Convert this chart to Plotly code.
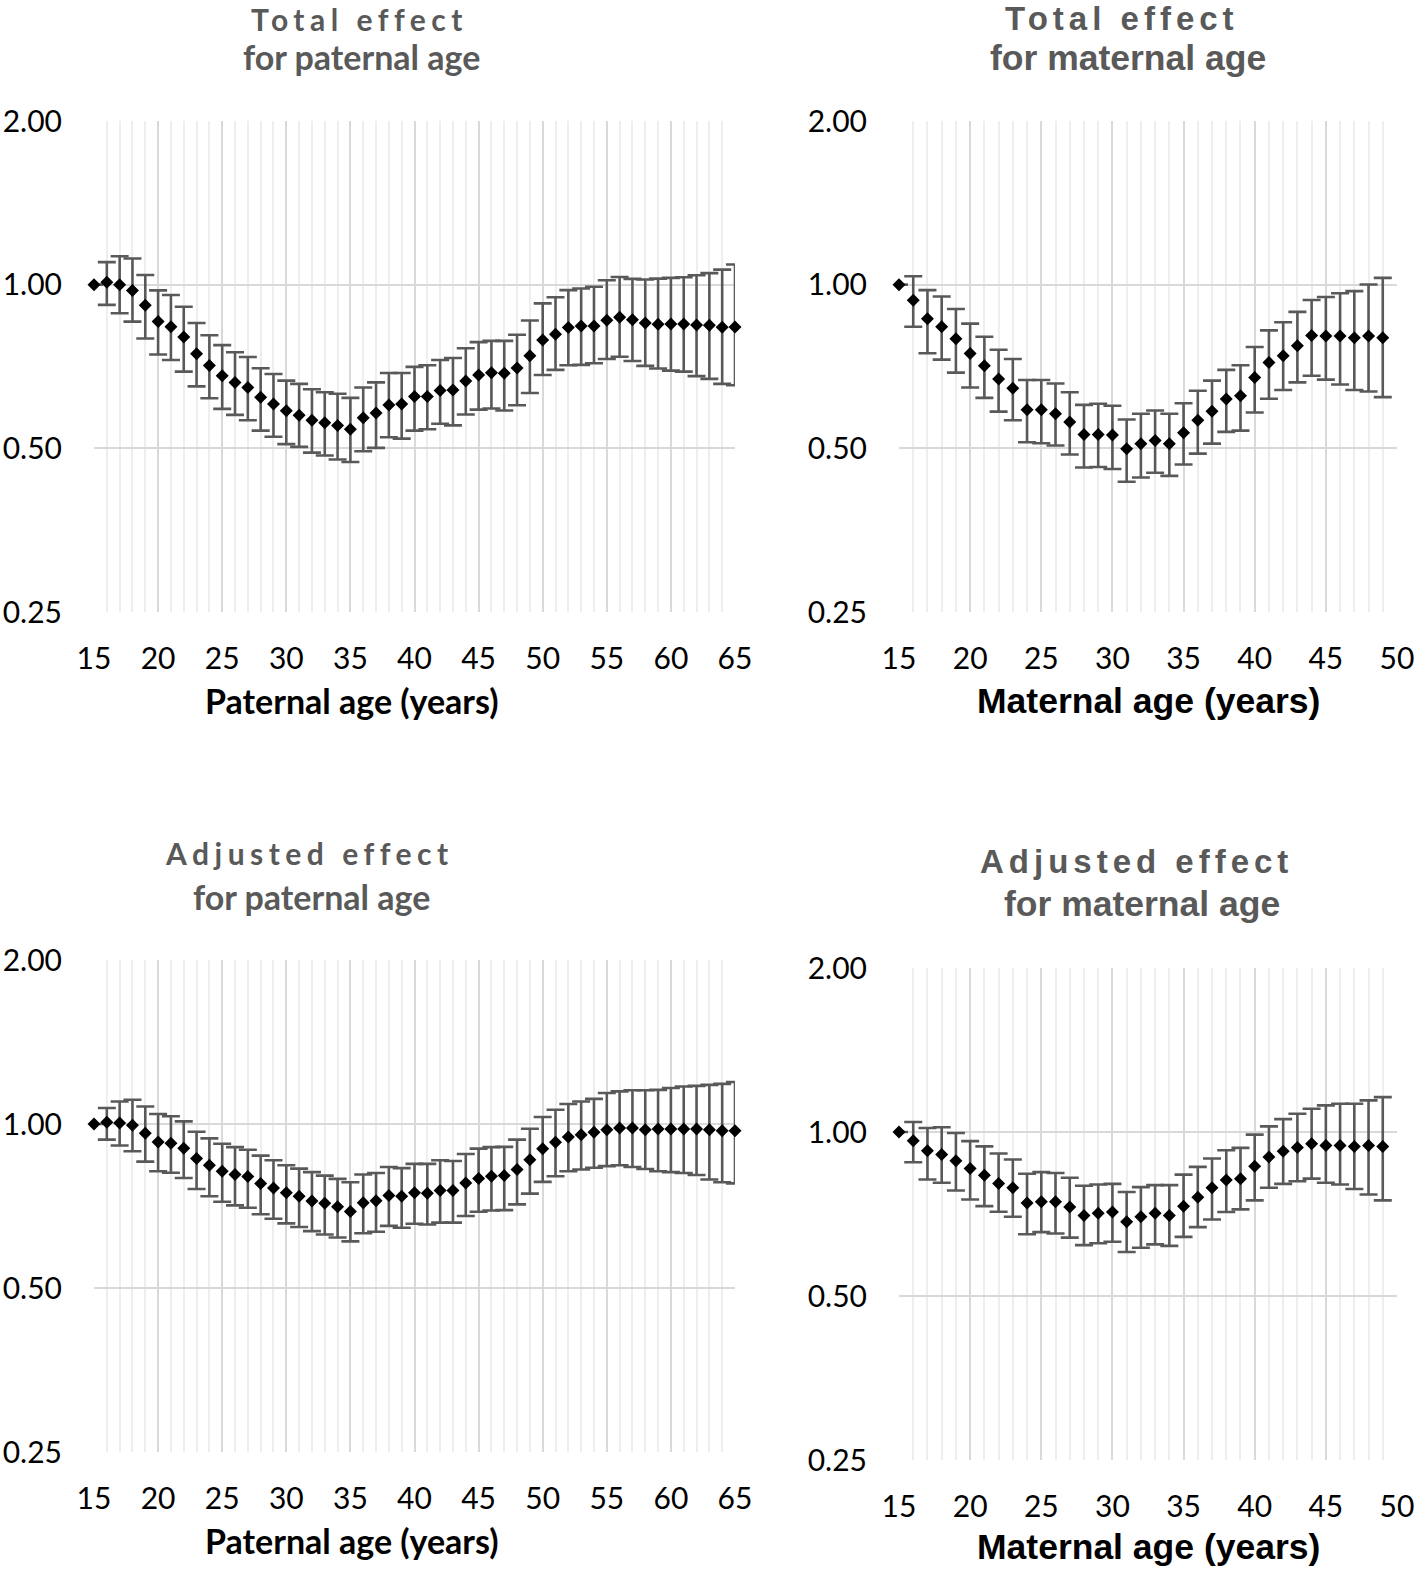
import plotly.graph_objects as go

# ---- data (odds ratios) ----
pat_ages = list(range(15, 66))
mat_ages = list(range(15, 50))

tot_pat_est = [1.00, 1.01, 1.00, 0.976, 0.917, 0.856, 0.837, 0.801, 0.746, 0.710,
               0.680, 0.661, 0.647, 0.621, 0.603, 0.586, 0.575, 0.563, 0.557, 0.551,
               0.542, 0.569, 0.581, 0.601, 0.603, 0.623, 0.623, 0.639, 0.640, 0.665,
               0.682, 0.689, 0.687, 0.703, 0.740, 0.791, 0.811, 0.834, 0.839, 0.839,
               0.860, 0.871, 0.862, 0.850, 0.846, 0.847, 0.847, 0.843, 0.842, 0.835, 0.836]
tot_pat_hi = [1.00, 1.10, 1.128, 1.117, 1.042, 0.976, 0.957, 0.911, 0.850, 0.807,
              0.774, 0.751, 0.736, 0.702, 0.685, 0.666, 0.657, 0.642, 0.634, 0.630,
              0.619, 0.647, 0.661, 0.688, 0.688, 0.706, 0.711, 0.727, 0.733, 0.764,
              0.784, 0.788, 0.788, 0.809, 0.859, 0.924, 0.948, 0.977, 0.984, 0.991,
              1.019, 1.033, 1.025, 1.022, 1.026, 1.029, 1.032, 1.041, 1.050, 1.066, 1.089]
tot_pat_lo = [1.00, 0.918, 0.886, 0.855, 0.796, 0.744, 0.727, 0.692, 0.650, 0.618,
              0.591, 0.576, 0.563, 0.539, 0.525, 0.509, 0.503, 0.491, 0.485, 0.477,
              0.472, 0.494, 0.501, 0.524, 0.521, 0.539, 0.542, 0.555, 0.551, 0.577,
              0.589, 0.592, 0.587, 0.600, 0.632, 0.682, 0.697, 0.711, 0.712, 0.717,
              0.730, 0.737, 0.724, 0.709, 0.701, 0.695, 0.692, 0.679, 0.671, 0.657, 0.653]

tot_mat_est = [1.00, 0.936, 0.866, 0.837, 0.795, 0.747, 0.709, 0.671, 0.645, 0.589,
               0.589, 0.579, 0.559, 0.530, 0.530, 0.529, 0.499, 0.510, 0.517, 0.510,
               0.534, 0.563, 0.585, 0.616, 0.625, 0.675, 0.719, 0.740, 0.772, 0.806,
               0.805, 0.805, 0.799, 0.805, 0.799]
tot_mat_hi = [1.00, 1.036, 0.977, 0.951, 0.902, 0.848, 0.802, 0.759, 0.730, 0.668,
              0.668, 0.658, 0.634, 0.601, 0.604, 0.599, 0.565, 0.579, 0.587, 0.579,
              0.605, 0.638, 0.666, 0.697, 0.711, 0.768, 0.824, 0.853, 0.891, 0.937,
              0.949, 0.964, 0.973, 1.001, 1.029]
tot_mat_lo = [1.00, 0.837, 0.748, 0.728, 0.689, 0.647, 0.619, 0.584, 0.563, 0.513,
              0.511, 0.506, 0.487, 0.461, 0.462, 0.458, 0.434, 0.442, 0.451, 0.445,
              0.467, 0.489, 0.510, 0.536, 0.539, 0.582, 0.617, 0.640, 0.661, 0.680,
              0.669, 0.655, 0.640, 0.636, 0.621]

adj_pat_est = [1.00, 1.007, 1.004, 0.995, 0.962, 0.927, 0.922, 0.903, 0.864, 0.840,
               0.819, 0.808, 0.801, 0.778, 0.763, 0.748, 0.737, 0.722, 0.715, 0.705,
               0.691, 0.717, 0.723, 0.739, 0.737, 0.748, 0.746, 0.755, 0.755, 0.779,
               0.794, 0.802, 0.804, 0.825, 0.860, 0.901, 0.926, 0.947, 0.956, 0.966,
               0.976, 0.983, 0.983, 0.976, 0.979, 0.979, 0.979, 0.979, 0.976, 0.972, 0.972]
adj_pat_hi = [1.00, 1.070, 1.100, 1.108, 1.077, 1.043, 1.033, 1.011, 0.968, 0.941,
              0.920, 0.907, 0.897, 0.875, 0.858, 0.840, 0.828, 0.816, 0.804, 0.793,
              0.782, 0.808, 0.813, 0.834, 0.830, 0.845, 0.845, 0.858, 0.855, 0.881,
              0.901, 0.907, 0.908, 0.936, 0.980, 1.030, 1.062, 1.088, 1.100, 1.112,
              1.140, 1.148, 1.153, 1.153, 1.155, 1.164, 1.172, 1.175, 1.180, 1.185, 1.194]
adj_pat_lo = [1.00, 0.936, 0.913, 0.891, 0.853, 0.819, 0.814, 0.796, 0.760, 0.737,
              0.720, 0.709, 0.702, 0.683, 0.670, 0.657, 0.647, 0.636, 0.627, 0.619,
              0.609, 0.630, 0.634, 0.650, 0.645, 0.656, 0.654, 0.659, 0.659, 0.678,
              0.690, 0.694, 0.695, 0.712, 0.745, 0.783, 0.802, 0.819, 0.825, 0.831,
              0.837, 0.840, 0.834, 0.827, 0.819, 0.816, 0.813, 0.806, 0.791, 0.782, 0.778]

adj_mat_est = [1.00, 0.964, 0.924, 0.909, 0.886, 0.857, 0.833, 0.804, 0.790, 0.741,
               0.745, 0.745, 0.728, 0.703, 0.709, 0.713, 0.684, 0.699, 0.709, 0.703,
               0.731, 0.759, 0.790, 0.816, 0.821, 0.865, 0.900, 0.922, 0.937, 0.952,
               0.945, 0.945, 0.941, 0.945, 0.941]
adj_mat_hi = [1.00, 1.043, 1.017, 1.020, 0.996, 0.962, 0.941, 0.913, 0.890, 0.838,
              0.844, 0.841, 0.824, 0.797, 0.801, 0.803, 0.776, 0.792, 0.799, 0.799,
              0.835, 0.863, 0.894, 0.926, 0.935, 0.989, 1.024, 1.056, 1.080, 1.103,
              1.119, 1.127, 1.127, 1.143, 1.159]
adj_mat_lo = [1.00, 0.880, 0.818, 0.807, 0.781, 0.752, 0.731, 0.714, 0.699, 0.649,
              0.655, 0.651, 0.640, 0.620, 0.625, 0.629, 0.602, 0.613, 0.622, 0.618,
              0.642, 0.669, 0.691, 0.713, 0.721, 0.749, 0.790, 0.803, 0.812, 0.821,
              0.807, 0.801, 0.786, 0.768, 0.749]

y_ticks = [0.25, 0.5, 1.0, 2.0]
y_tick_text = ["0.25", "0.50", "1.00", "2.00"]

W, H = 1418, 1570
CALIBRI = "Lato, Open Sans, sans-serif"
ARIAL = "Liberation Sans, Arial, sans-serif"
TITLE_GREY = "#595959"

# panel boxes in pixels: (left, right, top, bottom)
panels = [
    dict(ages=pat_ages, est=tot_pat_est, hi=tot_pat_hi, lo=tot_pat_lo, box=(94, 735, 121, 612),
         xr=[15, 65]),
    dict(ages=mat_ages, est=tot_mat_est, hi=tot_mat_hi, lo=tot_mat_lo, box=(899, 1397, 121, 612),
         xr=[15, 50]),
    dict(ages=pat_ages, est=adj_pat_est, hi=adj_pat_hi, lo=adj_pat_lo, box=(94, 735, 960, 1452),
         xr=[15, 65]),
    dict(ages=mat_ages, est=adj_mat_est, hi=adj_mat_hi, lo=adj_mat_lo, box=(899, 1397, 968, 1460),
         xr=[15, 50]),
]

fig = go.Figure()
layout = {}
for i, p in enumerate(panels, start=1):
    sfx = "" if i == 1 else str(i)
    l, r, t, b = p["box"]
    fig.add_trace(go.Scatter(
        x=p["ages"], y=p["est"],
        mode="markers",
        marker=dict(symbol="diamond", size=10, color="black"),
        error_y=dict(
            type="data", symmetric=False,
            array=[h - e for h, e in zip(p["hi"], p["est"])],
            arrayminus=[e - lo for e, lo in zip(p["est"], p["lo"])],
            color="#595959", thickness=2.6, width=9,
        ),
        cliponaxis=False,
        showlegend=False,
        xaxis="x" + sfx, yaxis="y" + sfx,
    ))
    layout["xaxis" + sfx] = dict(
        domain=[l / W, r / W], anchor="y" + sfx, range=p["xr"],
        tickmode="linear", tick0=15, dtick=5, automargin=False,
        showgrid=True, gridcolor="#d9d9d9", gridwidth=2,
        minor=dict(dtick=1, showgrid=True, gridcolor="#eeeeee", gridwidth=2),
        zeroline=False, showline=False,
        ticks="outside", ticklen=20, tickcolor="rgba(0,0,0,0)",
        tickfont=dict(family=CALIBRI, size=30, color="black"),
    )
    layout["yaxis" + sfx] = dict(
        domain=[1 - b / H, 1 - t / H], anchor="x" + sfx, type="log",
        range=[-0.60206, 0.30103], automargin=False,
        tickvals=y_ticks, ticktext=y_tick_text,
        showgrid=True, gridcolor="#d9d9d9", gridwidth=2,
        zeroline=False, showline=False,
        ticks="outside", ticklen=25, tickcolor="rgba(0,0,0,0)",
        tickfont=dict(family=CALIBRI, size=30, color="black"),
    )


def txt(text, x, y, family, size, color, bold=True):
    return dict(text=f"<b>{text}</b>" if bold else text, x=x / W, y=1 - y / H,
                xref="paper", yref="paper", xanchor="center", yanchor="middle",
                showarrow=False, font=dict(family=family, size=size, color=color))


spaced = '<span style="letter-spacing:{}px">{}</span>'
annotations = [
    txt(spaced.format(5.5, "Total effect"), 359, 19, CALIBRI, 30, TITLE_GREY),
    txt("for paternal age", 361, 57, CALIBRI, 34, TITLE_GREY),
    txt(spaced.format(5, "Total effect"), 1122, 19, ARIAL, 33, TITLE_GREY),
    txt("for maternal age", 1128, 58, ARIAL, 35.5, TITLE_GREY),
    txt(spaced.format(5.5, "Adjusted effect"), 309, 853, CALIBRI, 30, TITLE_GREY),
    txt("for paternal age", 311, 896, CALIBRI, 34, TITLE_GREY),
    txt(spaced.format(5, "Adjusted effect"), 1136, 861, ARIAL, 33, TITLE_GREY),
    txt("for maternal age", 1142, 904, ARIAL, 35.5, TITLE_GREY),
    txt("Paternal age (years)", 351, 700, CALIBRI, 34, "black"),
    txt("Maternal age (years)", 1148, 701, ARIAL, 35.5, "black"),
    txt("Paternal age (years)", 351, 1540, CALIBRI, 34, "black"),
    txt("Maternal age (years)", 1148, 1547, ARIAL, 35.5, "black"),
]

fig.update_layout(
    **layout,
    annotations=annotations,
    width=W, height=H,
    margin=dict(l=0, r=0, t=0, b=0),
    paper_bgcolor="white", plot_bgcolor="white",
)

# drop the default body margin so the figure fills the window exactly
fig.write_html(
    "out.html",
    config={"displayModeBar": False},
    post_script="document.body.style.margin='0';document.body.style.overflow='hidden';",
)
